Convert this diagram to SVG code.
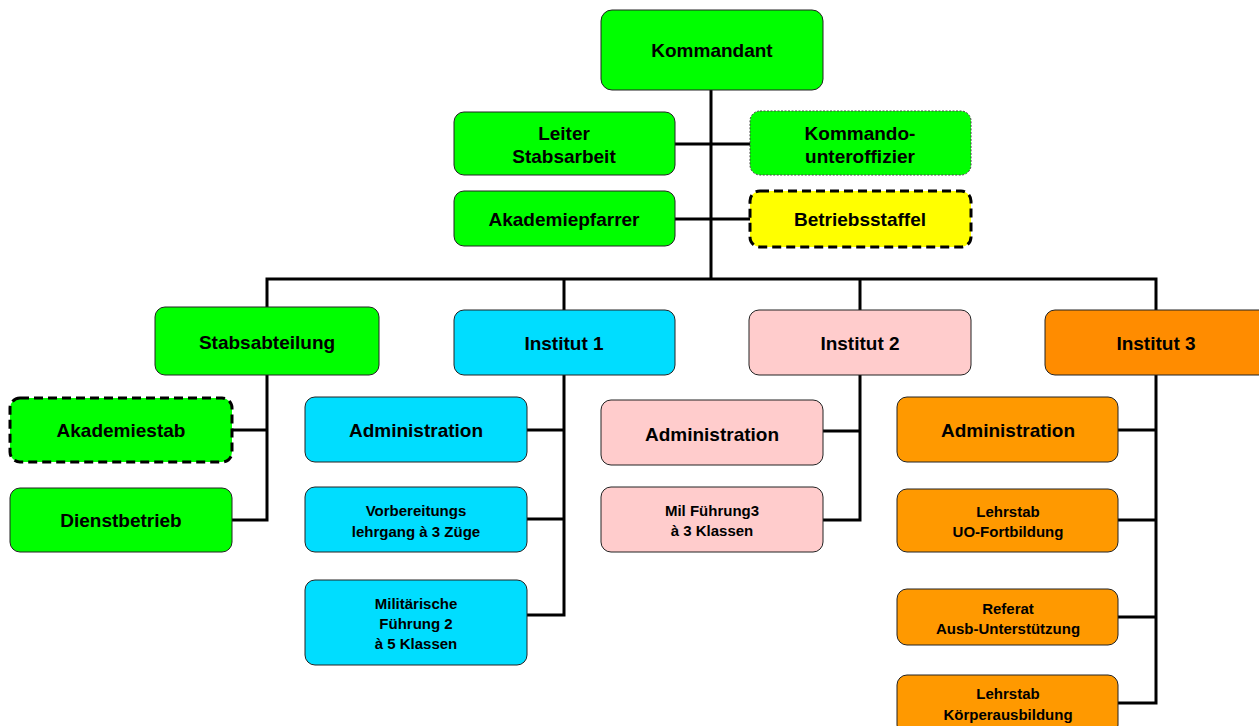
<svg xmlns="http://www.w3.org/2000/svg" width="1259" height="726" viewBox="0 0 1259 726">
<style>
.n{stroke:#222;stroke-width:1}
.g{fill:#00FF00}
.c{fill:#00DDFF}
.p{fill:#FFCCCC}
.o{fill:#FF9900}
.o2{fill:#FF8C00}
.y{fill:#FFFF00}
.dash{stroke:#000;stroke-width:3;stroke-dasharray:9 5}
.dot{stroke:#444;stroke-width:1;stroke-dasharray:2 1.5}
text{font-family:"Liberation Sans",Arial,sans-serif;font-weight:bold;fill:#000;text-anchor:middle;dominant-baseline:central}
.t{font-size:19px}
.s{font-size:15px}
.ln{fill:none;stroke:#000;stroke-width:3}
</style>
<rect width="1259" height="726" fill="#fff"/>
<g id="connectors">
<path class="ln" d="M711 90V279M675 144H750M675 219H750"/>
<path class="ln" d="M267 307V279H1156V310M564 279V310M860 279V310"/>
<path class="ln" d="M267 375V520H232M232 430H267"/>
<path class="ln" d="M564 375V615H527M527 430H564M527 519H564"/>
<path class="ln" d="M860 375V520H823M823 431H860"/>
<path class="ln" d="M1156 375V703H1118M1118 430H1156M1118 520H1156M1118 617H1156"/>
</g>
<g id="kommandant"><rect class="n g" x="601" y="10" width="222" height="80" rx="11"/><text class="t" x="712" y="50">Kommandant</text></g>
<g id="leiter"><rect class="n g" x="454" y="112" width="221" height="63" rx="10"/><text class="t" x="564" y="133">Leiter</text><text class="t" x="564" y="156">Stabsarbeit</text></g>
<g id="kommandouo"><rect class="g dot" x="750" y="111" width="221" height="64" rx="10"/><text class="t" x="860" y="133">Kommando-</text><text class="t" x="860" y="156">unteroffizier</text></g>
<g id="pfarrer"><rect class="n g" x="454" y="191" width="221" height="55" rx="10"/><text class="t" x="564" y="219">Akademiepfarrer</text></g>
<g id="betriebsstaffel"><rect class="y dash" x="750" y="191" width="221" height="56" rx="10"/><text class="t" x="860" y="219">Betriebsstaffel</text></g>
<g id="stabsabteilung"><rect class="n g" x="155" y="307" width="224" height="68" rx="10"/><text class="t" x="267" y="342">Stabsabteilung</text></g>
<g id="akademiestab"><rect class="g dash" x="10" y="398" width="222" height="64" rx="10"/><text class="t" x="121" y="430">Akademiestab</text></g>
<g id="dienstbetrieb"><rect class="n g" x="10" y="488" width="222" height="64" rx="10"/><text class="t" x="121" y="520">Dienstbetrieb</text></g>
<g id="institut1"><rect class="n c" x="454" y="310" width="221" height="65" rx="10"/><text class="t" x="564" y="343">Institut 1</text></g>
<g id="admin1"><rect class="n c" x="305" y="397" width="222" height="65" rx="10"/><text class="t" x="416" y="430">Administration</text></g>
<g id="vorbereitung"><rect class="n c" x="305" y="487" width="222" height="65" rx="10"/><text class="s" x="416" y="510">Vorbereitungs</text><text class="s" x="416" y="531">lehrgang à 3 Züge</text></g>
<g id="milfuehrung2"><rect class="n c" x="305" y="580" width="222" height="85" rx="10"/><text class="s" x="416" y="603">Militärische</text><text class="s" x="416" y="623">Führung 2</text><text class="s" x="416" y="643">à 5 Klassen</text></g>
<g id="institut2"><rect class="n p" x="749" y="310" width="222" height="65" rx="10"/><text class="t" x="860" y="343">Institut 2</text></g>
<g id="admin2"><rect class="n p" x="601" y="400" width="222" height="65" rx="10"/><text class="t" x="712" y="434">Administration</text></g>
<g id="milfuehrung3"><rect class="n p" x="601" y="487" width="222" height="65" rx="10"/><text class="s" x="712" y="510">Mil Führung3</text><text class="s" x="712" y="530">à 3 Klassen</text></g>
<g id="institut3"><rect class="n o2" x="1045" y="310" width="230" height="65" rx="10"/><text class="t" x="1156" y="343">Institut 3</text></g>
<g id="admin3"><rect class="n o" x="897" y="397" width="221" height="65" rx="10"/><text class="t" x="1008" y="430">Administration</text></g>
<g id="lehrstabuo"><rect class="n o" x="897" y="489" width="221" height="63" rx="10"/><text class="s" x="1008" y="511">Lehrstab</text><text class="s" x="1008" y="531">UO-Fortbildung</text></g>
<g id="referat"><rect class="n o" x="897" y="589" width="221" height="56" rx="10"/><text class="s" x="1008" y="608">Referat</text><text class="s" x="1008" y="628">Ausb-Unterstützung</text></g>
<g id="lehrstabkoerper"><rect class="n o" x="897" y="675" width="221" height="60" rx="10"/><text class="s" x="1008" y="693">Lehrstab</text><text class="s" x="1008" y="714">Körperausbildung</text></g>
</svg>
